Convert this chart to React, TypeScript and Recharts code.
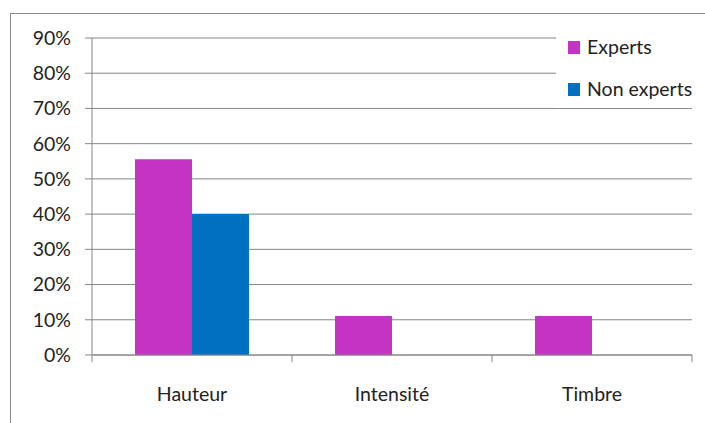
import React from 'react';
import { BarChart, Bar, XAxis, YAxis, CartesianGrid, Legend } from 'recharts';

const categories = ['Hauteur', 'Intensité', 'Timbre'];
const expertsValues = [0.556, 0.111, 0.111];
const nonExpertsValues = [0.4, 0, 0];
const yTicks = [0, 0.1, 0.2, 0.3, 0.4, 0.5, 0.6, 0.7, 0.8, 0.9];
const seriesNames = ['Experts', 'Non experts'];
const seriesColors = ['#C433C4', '#0070C0'];

const data = categories.map((c, i) => ({
  name: c,
  experts: expertsValues[i],
  nonExperts: nonExpertsValues[i],
}));

const FONT = 'Lato, "Open Sans", sans-serif';
const AXIS_COLOR = '#868686';

const XTick = (props: any) => {
  const { x, y, payload, index } = props;
  const half = payload.offset || 0;
  const axisY = y - 32;
  return (
    <g>
      <line x1={x - half} x2={x - half} y1={axisY} y2={axisY + 7} stroke={AXIS_COLOR} />
      {index === categories.length - 1 && (
        <line x1={x + half} x2={x + half} y1={axisY} y2={axisY + 7} stroke={AXIS_COLOR} />
      )}
      <text x={x} y={y} dy="0.71em" textAnchor="middle" fill="#222" fontSize={19.5} fontFamily={FONT}>
        {payload.value}
      </text>
    </g>
  );
};

const LegendContent = () => (
  <div style={{ width: 136, height: 88, background: 'white', position: 'relative', fontFamily: FONT, fontSize: 19.5, color: '#222' }}>
    {seriesNames.map((n, i) => (
      <div key={n} style={{ position: 'absolute', left: 12, top: 20 + i * 42, display: 'flex', alignItems: 'center', height: 14 }}>
        <div style={{ width: 12, height: 13, background: seriesColors[i], marginRight: 7 }} />
        <span style={{ lineHeight: '14px', whiteSpace: 'nowrap' }}>{n}</span>
      </div>
    ))}
  </div>
);

export default function App() {
  return (
    <div style={{ position: 'absolute', left: 0, top: 0, width: 705, height: 423, background: 'white', overflow: 'hidden' }}>
      <div style={{ position: 'absolute', left: 10, top: 13, width: 740, height: 460, borderLeft: '1px solid #888', borderTop: '1.5px solid #888' }} />
      <BarChart
        width={705}
        height={423}
        data={data}
        margin={{ top: 38, right: 13, left: 32, bottom: 18 }}
        barCategoryGap="21.5%"
        barGap={0}
      >
        <CartesianGrid vertical={false} stroke={AXIS_COLOR} strokeDasharray="" />
        <XAxis
          dataKey="name"
          height={50}
          axisLine={{ stroke: AXIS_COLOR }}
          tickLine={false}
          tickSize={7}
          tickMargin={25}
          interval={0}
          tick={<XTick />}
        />
        <YAxis
          width={60}
          domain={[0, 0.9]}
          ticks={yTicks}
          interval={0}
          tickFormatter={(v: number) => `${Math.round(v * 100)}%`}
          axisLine={{ stroke: AXIS_COLOR }}
          tickLine={{ stroke: AXIS_COLOR }}
          tickSize={7}
          tickMargin={14}
          tick={{ fill: '#222', fontSize: 19.5, fontFamily: FONT }}
        />
        <Legend
          layout="vertical"
          align="center"
          verticalAlign="middle"
          content={<LegendContent />}
          wrapperStyle={{ position: 'absolute', left: 556, top: 20, width: 136, height: 88 }}
        />
        <Bar dataKey="experts" name={seriesNames[0]} fill={seriesColors[0]} isAnimationActive={false} />
        <Bar dataKey="nonExperts" name={seriesNames[1]} fill={seriesColors[1]} isAnimationActive={false} />
      </BarChart>
    </div>
  );
}
